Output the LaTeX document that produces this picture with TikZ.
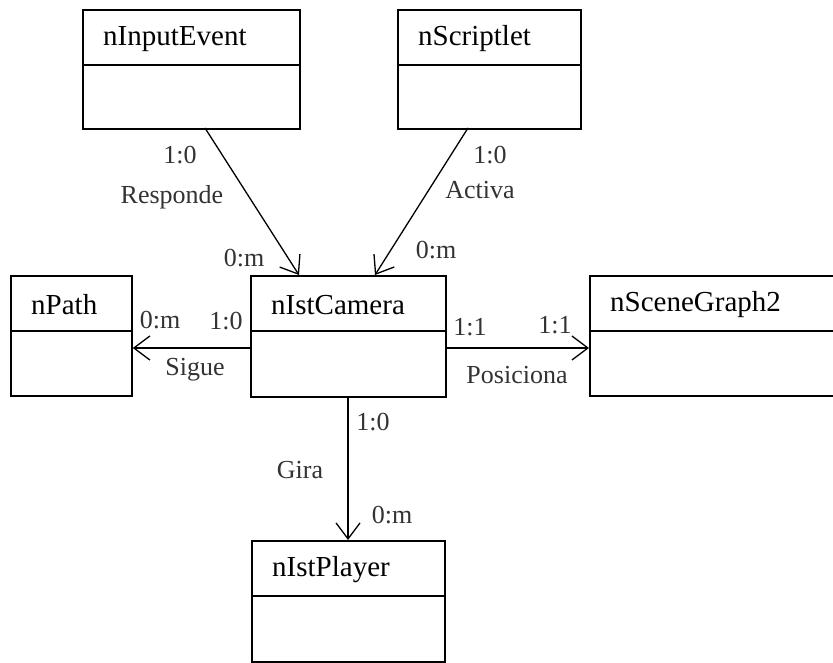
\documentclass[tikz,border=0pt]{standalone}
\usepackage{fontspec}
\setmainfont{Liberation Serif}
\usetikzlibrary{arrows.meta,positioning}
\tikzset
{
    classbox/.style = {draw=black, line width=1.8pt, anchor=north west, inner sep=0pt},
    classname/.style = {anchor=west, font=\fontsize{29}{31}\selectfont, inner sep=0pt},
    assoc/.style = {draw=black, line width=1.3pt, -{Straight Barb[length=16pt, width=24pt, line width=1.3pt]}},
    mult/.style = {font=\fontsize{26}{28}\selectfont, text=black!80, inner sep=0pt}
}
\newcommand{\umlclass}[6]{% name, x, y, width, height, title
  \node [classbox, minimum width=#4pt, minimum height=#5pt] (#1) at (#2,#3) {};
  \draw [line width=1.5pt] ([yshift=-56pt]#1.north west) -- ([yshift=-56pt]#1.north east);
  \node [classname] (#1-title) at ([xshift=21pt,yshift=-30pt]#1.north west) {#6};
}
\begin{document}
\begin{tikzpicture}[x=1pt, y=-1pt]
\clip (0,0) rectangle (833,663);
\fill [white] (0,0) rectangle (833,663);

\umlclass{input}{82}{9}{217}{119}{nInputEvent}
\umlclass{script}{397}{9}{183}{119}{nScriptlet}
\umlclass{path}{10}{275}{121}{120}{nPath}
\umlclass{camera}{250}{275}{195}{121}{nIstCamera}
\umlclass{scene}{589}{275}{260}{120}{nSceneGraph2}
\umlclass{player}{251}{540}{193}{121}{nIstPlayer}

\coordinate (input-out) at (205,128);
\coordinate (script-out) at (468,128);
\coordinate (cam-in1) at (299,275);
\coordinate (cam-in2) at (375,275);
\coordinate (cam-left) at (250,348);
\coordinate (cam-right) at (445,348);
\coordinate (cam-down) at (348,396);

\draw [assoc] (input-out) -- (cam-in1);
\draw [assoc] (script-out) -- (cam-in2);
\draw [assoc] (cam-left) -- (path.east |- cam-left);
\draw [assoc] (cam-right) -- (scene.west |- cam-right);
\draw [assoc] (cam-down) -- (cam-down |- player.north);

% multiplicities and roles
\node [mult] (m1) at (180,155) {1:0};
\node [mult] (r1) at (172,197) {Responde};
\node [mult] (m2) at (244,258) {0:m};
\node [mult] (m3) at (490,155) {1:0};
\node [mult] (r2) at (480,190) {Activa};
\node [mult] (m4) at (436,250) {0:m};
\node [mult] (m5) at (160,320) {0:m};
\node [mult] (m6) at (226,321) {1:0};
\node [mult] (r3) at (195,370) {Sigue};
\node [mult] (m7) at (470,327) {1:1};
\node [mult] (m8) at (555,325) {1:1};
\node [mult] (r4) at (517,375) {Posiciona};
\node [mult] (m9) at (373,422) {1:0};
\node [mult] (r5) at (300,470) {Gira};
\node [mult] (m10) at (392,515) {0:m};
\end{tikzpicture}
\end{document}
